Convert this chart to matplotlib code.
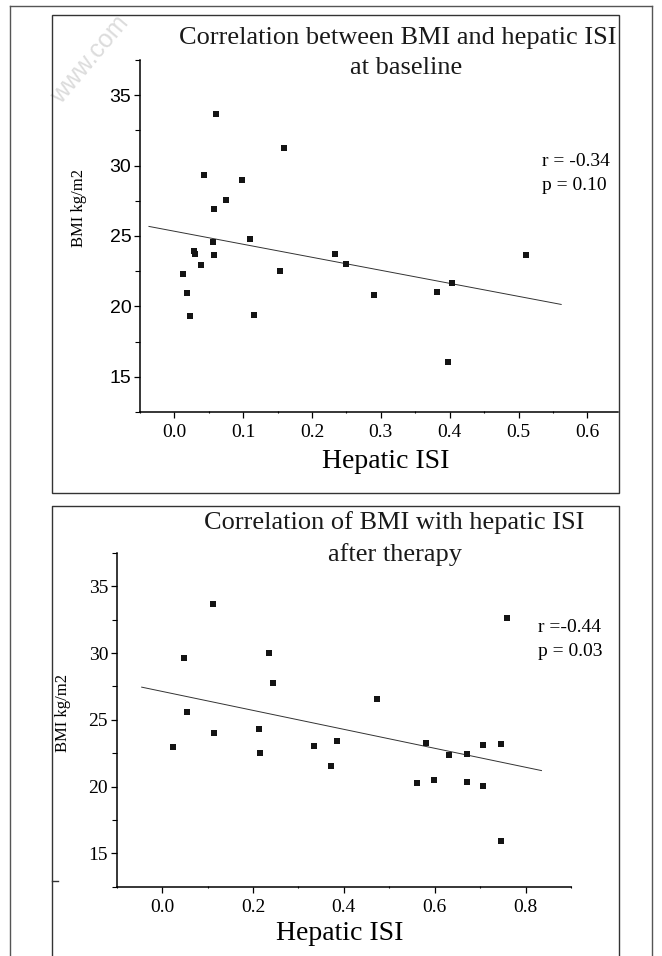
import matplotlib
matplotlib.use("Agg")
import matplotlib.pyplot as plt
from matplotlib.patches import Rectangle
from matplotlib.lines import Line2D
from matplotlib.ticker import MultipleLocator

# baseline data (hepatic ISI vs BMI)
base_isi = [0.060, 0.159, 0.043, 0.098, 0.075, 0.058, 0.110, 0.056, 0.029, 0.030,
            0.058, 0.234, 0.038, 0.250, 0.012, 0.154, 0.404, 0.381, 0.018, 0.290,
            0.511, 0.023, 0.115, 0.397]
base_bmi = [33.63, 31.27, 29.34, 28.99, 27.57, 26.91, 24.76, 24.55, 23.90, 23.75,
            23.68, 23.75, 22.95, 23.02, 22.33, 22.50, 21.63, 21.04, 20.94, 20.78,
            23.66, 19.32, 19.41, 16.04]
base_fit_x = [-0.037, 0.562]
base_fit_y = [25.68, 20.14]

# after therapy data
post_isi = [0.112, 0.760, 0.049, 0.236, 0.244, 0.473, 0.054, 0.213, 0.115, 0.025,
            0.216, 0.334, 0.384, 0.371, 0.580, 0.632, 0.670, 0.706, 0.746, 0.561,
            0.598, 0.670, 0.706, 0.746]
post_bmi = [33.70, 32.63, 29.63, 30.00, 27.75, 26.53, 25.60, 24.35, 24.00, 22.98,
            22.53, 23.05, 23.38, 21.55, 23.23, 22.33, 22.43, 23.10, 23.20, 20.28,
            20.50, 20.38, 20.03, 15.93]
post_fit_x = [-0.045, 0.835]
post_fit_y = [27.45, 21.20]

W, H = 662, 956
SERIF = "Liberation Serif"
SANS = "Liberation Sans"


def fx(px):
    return px / W


def fy(py):
    return 1 - py / H


fig = plt.figure(figsize=(W / 100, H / 100), dpi=100)

# faint watermark in the corner
fig.text(fx(90), fy(60), "www.com", rotation=50, fontsize=18, color="#dcdcdc",
         family=SANS, ha="center", va="center", zorder=0)

# page borders
border = "#555555"
fig.add_artist(Line2D([fx(10), fx(10)], [fy(6), 0], transform=fig.transFigure, color=border, lw=1.0))
fig.add_artist(Line2D([fx(10), fx(652)], [fy(6), fy(6)], transform=fig.transFigure, color=border, lw=1.0))
fig.add_artist(Line2D([fx(652), fx(652)], [fy(6), 0], transform=fig.transFigure, color=border, lw=1.0))
fig.add_artist(Rectangle((fx(52), fy(493)), fx(619) - fx(52), fy(15) - fy(493),
                         transform=fig.transFigure, fill=False, ec="#333333", lw=1.0))
fig.add_artist(Line2D([fx(52), fx(52), fx(619), fx(619)], [0, fy(506), fy(506), 0],
                      transform=fig.transFigure, color="#333333", lw=1.0))
fig.add_artist(Line2D([fx(52), fx(58)], [fy(881), fy(881)], transform=fig.transFigure,
                      color="#333333", lw=1.0))


def style_axes(ax, ytick_family):
    for s in ["top", "right"]:
        ax.spines[s].set_visible(False)
    for s in ["left", "bottom"]:
        ax.spines[s].set_linewidth(1.1)
    ax.set_ylim(12.5, 37.5)
    ax.yaxis.set_major_locator(MultipleLocator(5))
    ax.yaxis.set_minor_locator(MultipleLocator(2.5))
    ax.tick_params(axis="y", which="major", direction="out", length=4.2, width=0.9,
                   labelsize=14, pad=2)
    ax.tick_params(axis="y", which="minor", direction="out", length=3.5, width=0.8)
    ax.tick_params(axis="x", which="major", direction="out", length=4.5, width=0.9,
                   labelsize=14, pad=4)
    ax.tick_params(axis="x", which="minor", direction="inout", length=2.0, width=0.8)
    for lab in ax.get_yticklabels():
        lab.set_family(ytick_family)
    for lab in ax.get_xticklabels():
        lab.set_family(SERIF)


# top panel: baseline
ax1 = fig.add_axes([fx(140), fy(412), fx(618.3) - fx(140), fy(60) - fy(412)])
ax1.set_facecolor("none")
ax1.plot(base_fit_x, base_fit_y, color="#333333", lw=0.7)
ax1.plot(base_isi, base_bmi, "s", color="#141414", ms=4.4, mew=0)
ax1.set_xlim(-0.05, 0.645)
ax1.xaxis.set_major_locator(MultipleLocator(0.1))
ax1.xaxis.set_minor_locator(MultipleLocator(0.05))
ax1.xaxis.set_major_formatter(matplotlib.ticker.FormatStrFormatter("%.1f"))
style_axes(ax1, SANS)

fig.text(fx(398), fy(38), "Correlation between BMI and hepatic ISI", family=SERIF,
         fontsize=19, ha="center", va="center", color="#1a1a1a")
fig.text(fx(406), fy(68), "at baseline", family=SERIF, fontsize=19,
         ha="center", va="center", color="#1a1a1a")
fig.text(fx(542), fy(162), "r = -0.34", family=SERIF, fontsize=14, ha="left", va="center")
fig.text(fx(542), fy(186), "p = 0.10", family=SERIF, fontsize=14, ha="left", va="center")
fig.text(fx(386), fy(462), "Hepatic ISI", family=SERIF, fontsize=20, ha="center", va="center")
fig.text(fx(79), fy(208), "BMI kg/m2", family=SERIF, fontsize=12, rotation=90,
         ha="center", va="center")

# bottom panel: after therapy
ax2 = fig.add_axes([fx(116.7), fy(886.7), fx(571) - fx(116.7), fy(553) - fy(886.7)])
ax2.set_facecolor("none")
ax2.plot(post_fit_x, post_fit_y, color="#333333", lw=0.7)
ax2.plot(post_isi, post_bmi, "s", color="#141414", ms=4.4, mew=0)
ax2.set_xlim(-0.1, 0.9)
ax2.xaxis.set_major_locator(MultipleLocator(0.2))
ax2.xaxis.set_minor_locator(MultipleLocator(0.1))
ax2.xaxis.set_major_formatter(matplotlib.ticker.FormatStrFormatter("%.1f"))
style_axes(ax2, SERIF)

fig.text(fx(394), fy(523), "Correlation of BMI with hepatic ISI", family=SERIF,
         fontsize=19, ha="center", va="center", color="#1a1a1a")
fig.text(fx(395), fy(555), "after therapy", family=SERIF, fontsize=19,
         ha="center", va="center", color="#1a1a1a")
fig.text(fx(538), fy(628), "r =-0.44", family=SERIF, fontsize=14, ha="left", va="center")
fig.text(fx(538), fy(652), "p = 0.03", family=SERIF, fontsize=14, ha="left", va="center")
fig.text(fx(340), fy(933), "Hepatic ISI", family=SERIF, fontsize=20, ha="center", va="center")
fig.text(fx(63), fy(713), "BMI kg/m2", family=SERIF, fontsize=12, rotation=90,
         ha="center", va="center")

fig.savefig("out.png", dpi=100)
